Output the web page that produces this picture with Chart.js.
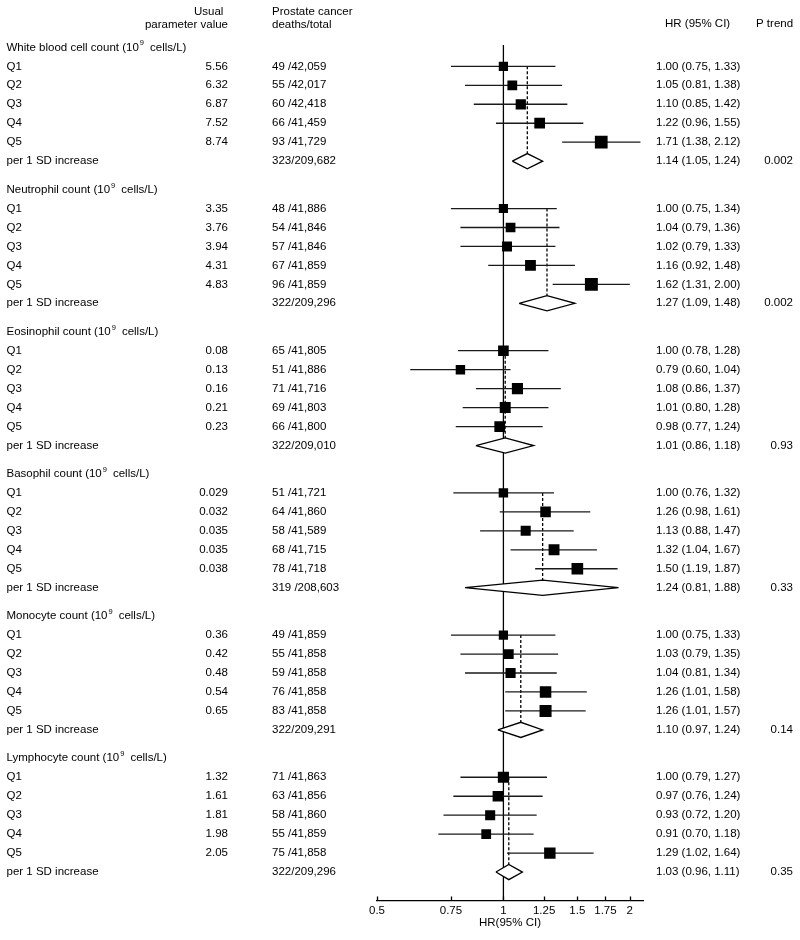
<!DOCTYPE html>
<html>
<head>
<meta charset="utf-8">
<title>Blood cell counts and prostate cancer death</title>
<script src="https://cdn.jsdelivr.net/npm/chart.js@4.4.0/dist/chart.umd.min.js"></script>
<style>
  html, body { margin: 0; padding: 0; background: #fff; }
  #forest { display: block; }
</style>
</head>
<body>
<canvas id="forest" width="800" height="940"></canvas>
<script>
// ---- data ----
const groupNames = ['White blood cell count', 'Neutrophil count', 'Eosinophil count',
    'Basophil count', 'Monocyte count', 'Lymphocyte count'];
const quintileLabels = ['Q1', 'Q2', 'Q3', 'Q4', 'Q5'];
const usualValues = [
    ['5.56', '6.32', '6.87', '7.52', '8.74'],
    ['3.35', '3.76', '3.94', '4.31', '4.83'],
    ['0.08', '0.13', '0.16', '0.21', '0.23'],
    ['0.029', '0.032', '0.035', '0.035', '0.038'],
    ['0.36', '0.42', '0.48', '0.54', '0.65'],
    ['1.32', '1.61', '1.81', '1.98', '2.05']
];
const deathsTotals = [
    ['49 /42,059', '55 /42,017', '60 /42,418', '66 /41,459', '93 /41,729'],
    ['48 /41,886', '54 /41,846', '57 /41,846', '67 /41,859', '96 /41,859'],
    ['65 /41,805', '51 /41,886', '71 /41,716', '69 /41,803', '66 /41,800'],
    ['51 /41,721', '64 /41,860', '58 /41,589', '68 /41,715', '78 /41,718'],
    ['49 /41,859', '55 /41,858', '59 /41,858', '76 /41,858', '83 /41,858'],
    ['71 /41,863', '63 /41,856', '58 /41,860', '55 /41,859', '75 /41,858']
];
const sdDeathsTotals = ['323/209,682', '322/209,296', '322/209,010', '319 /208,603', '322/209,291', '322/209,296'];
const hrEstimate = [
    [1.00, 1.05, 1.10, 1.22, 1.71],
    [1.00, 1.04, 1.02, 1.16, 1.62],
    [1.00, 0.79, 1.08, 1.01, 0.98],
    [1.00, 1.26, 1.13, 1.32, 1.50],
    [1.00, 1.03, 1.04, 1.26, 1.26],
    [1.00, 0.97, 0.93, 0.91, 1.29]
];
const hrLower = [
    [0.75, 0.81, 0.85, 0.96, 1.38],
    [0.75, 0.79, 0.79, 0.92, 1.31],
    [0.78, 0.60, 0.86, 0.80, 0.77],
    [0.76, 0.98, 0.88, 1.04, 1.19],
    [0.75, 0.79, 0.81, 1.01, 1.01],
    [0.79, 0.76, 0.72, 0.70, 1.02]
];
const hrUpper = [
    [1.33, 1.38, 1.42, 1.55, 2.12],
    [1.34, 1.36, 1.33, 1.48, 2.00],
    [1.28, 1.04, 1.37, 1.28, 1.24],
    [1.32, 1.61, 1.47, 1.67, 1.87],
    [1.33, 1.35, 1.34, 1.58, 1.57],
    [1.27, 1.24, 1.20, 1.18, 1.64]
];
const sdEstimate = [1.14, 1.27, 1.01, 1.24, 1.10, 1.03];
const sdLower = [1.05, 1.09, 0.86, 0.81, 0.97, 0.96];
const sdUpper = [1.24, 1.48, 1.18, 1.88, 1.24, 1.11];
const pTrend = ['0.002', '0.002', '0.93', '0.33', '0.14', '0.35'];
const xTickValues = [0.5, 0.75, 1, 1.25, 1.5, 1.75, 2];

// ---- layout helpers ----
const FAMILY = '"Liberation Sans", Arial, sans-serif';
const FONT = '11.5px ' + FAMILY;
const SUP_FONT = '7.5px ' + FAMILY;
const GROUP_STEP = 7.5;      // rows between group headers
const DIAMOND_HALF = 0.4;    // diamond half height, in rows
const rowPos = (g, r) => g * GROUP_STEP + r;   // r: 0 header, 1..5 quintiles, 6 per SD
const hrText = (e, l, u) => `${e.toFixed(2)} (${l.toFixed(2)}, ${u.toFixed(2)})`;
const squareRadius = label => 1.32 * Math.sqrt(parseInt(label, 10)) / Math.SQRT2;

const datasets = [];

// reference line at HR = 1
datasets.push({
    data: [{ x: 1, y: -0.13 }, { x: 1, y: 45 }],
    showLine: true, borderColor: '#000', borderWidth: 1.3, pointRadius: 0, order: 6
});

groupNames.forEach((name, g) => {
    // dashed line at the per-SD estimate
    datasets.push({
        data: [{ x: sdEstimate[g], y: rowPos(g, 1) }, { x: sdEstimate[g], y: rowPos(g, 6) - DIAMOND_HALF }],
        showLine: true, borderColor: '#000', borderWidth: 1.3, borderDash: [3, 2], pointRadius: 0, order: 5
    });
    // confidence intervals
    quintileLabels.forEach((q, i) => {
        datasets.push({
            data: [{ x: hrLower[g][i], y: rowPos(g, i + 1) }, { x: hrUpper[g][i], y: rowPos(g, i + 1) }],
            showLine: true, borderColor: '#1a1a1a', borderWidth: 1.3, pointRadius: 0, order: 4
        });
    });
    // per 1 SD diamond
    const yd = rowPos(g, 6);
    datasets.push({
        data: [
            { x: sdLower[g], y: yd }, { x: sdEstimate[g], y: yd - DIAMOND_HALF },
            { x: sdUpper[g], y: yd }, { x: sdEstimate[g], y: yd + DIAMOND_HALF },
            { x: sdLower[g], y: yd }
        ],
        showLine: true, fill: 'shape', backgroundColor: '#fff', borderColor: '#000',
        borderWidth: 1.3, pointRadius: 0, tension: 0, order: 3
    });
});

// point estimates, square area by number of deaths
const squarePoints = [];
const squareSizes = [];
groupNames.forEach((name, g) => {
    quintileLabels.forEach((q, i) => {
        squarePoints.push({ x: hrEstimate[g][i], y: rowPos(g, i + 1) });
        squareSizes.push(squareRadius(deathsTotals[g][i]));
    });
});
datasets.push({
    data: squarePoints, pointStyle: 'rect', pointRadius: squareSizes,
    pointBackgroundColor: '#000', pointBorderWidth: 0, showLine: false, order: 1
});

// text columns and inward tick marks
const forestText = {
    id: 'forestText',
    afterDraw(chart) {
        const { ctx, scales: { x, y }, chartArea } = chart;
        ctx.save();
        ctx.fillStyle = '#000';
        ctx.font = FONT;
        ctx.textBaseline = 'middle';

        const put = (txt, px, py, align) => { ctx.textAlign = align; ctx.fillText(txt, px, py); };

        put('Usual', 194, 12, 'left');
        put('parameter value', 228, 25, 'right');
        put('Prostate cancer', 272, 12, 'left');
        put('deaths/total', 272, 25, 'left');
        put('HR (95% CI)', 665, 24, 'left');
        put('P trend', 756, 24, 'left');

        groupNames.forEach((name, g) => {
            const yh = y.getPixelForValue(rowPos(g, 0));
            const head = `${name} (10`;
            put(head, 6.5, yh, 'left');
            let cx = 6.5 + ctx.measureText(head).width + 1;
            ctx.font = SUP_FONT;
            put('9', cx, yh - 4, 'left');
            cx += ctx.measureText('9').width + 6;
            ctx.font = FONT;
            put('cells/L)', cx, yh, 'left');

            quintileLabels.forEach((q, i) => {
                const yy = y.getPixelForValue(rowPos(g, i + 1));
                put(q, 6.5, yy, 'left');
                put(usualValues[g][i], 228, yy, 'right');
                put(deathsTotals[g][i], 272, yy, 'left');
                put(hrText(hrEstimate[g][i], hrLower[g][i], hrUpper[g][i]), 656, yy, 'left');
            });

            const ys = y.getPixelForValue(rowPos(g, 6));
            put('per 1 SD increase', 6.5, ys, 'left');
            put(sdDeathsTotals[g], 272, ys, 'left');
            put(hrText(sdEstimate[g], sdLower[g], sdUpper[g]), 656, ys, 'left');
            put(pTrend[g], 793, ys, 'right');
        });

        ctx.strokeStyle = '#000';
        ctx.lineWidth = 1.3;
        xTickValues.forEach(v => {
            const px = Math.round(x.getPixelForValue(v)) + 0.5;
            ctx.beginPath();
            ctx.moveTo(px, chartArea.bottom);
            ctx.lineTo(px, chartArea.bottom - 4);
            ctx.stroke();
        });
        ctx.restore();
    }
};

new Chart(document.getElementById('forest'), {
    type: 'scatter',
    data: { datasets },
    options: {
        responsive: false,
        animation: false,
        events: [],
        layout: { autoPadding: false, padding: { left: 377, right: 157, top: 0, bottom: 9.5 } },
        plugins: { legend: { display: false }, tooltip: { enabled: false } },
        scales: {
            x: {
                type: 'logarithmic',
                position: 'bottom',
                min: 0.5,
                max: 2.15,
                afterBuildTicks: scale => { scale.ticks = xTickValues.map(v => ({ value: v })); },
                afterFit: scale => { scale.height = 30; },
                grid: { display: false, drawTicks: false },
                border: { display: true, color: '#000', width: 1.3 },
                ticks: {
                    color: '#000',
                    font: { family: FAMILY, size: 11.5 },
                    padding: 3,
                    maxRotation: 0,
                    autoSkip: false,
                    callback: v => String(v)
                },
                title: {
                    display: true,
                    text: 'HR(95% CI)',
                    color: '#000',
                    font: { family: FAMILY, size: 11.5 },
                    padding: { top: 0, bottom: 1 }
                }
            },
            y: {
                type: 'linear',
                display: false,
                reverse: true,
                min: -2.5,
                max: 45
            }
        }
    },
    plugins: [forestText]
});
</script>
</body>
</html>
